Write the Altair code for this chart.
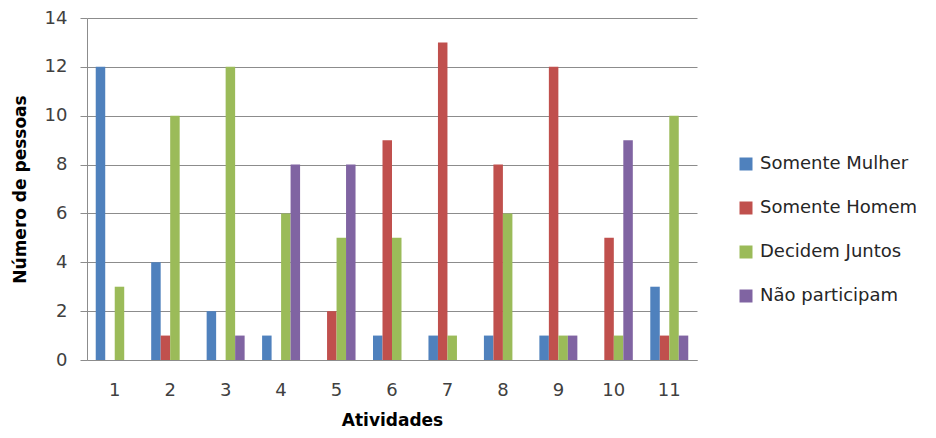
import altair as alt
import pandas as pd

atividades = ["1", "2", "3", "4", "5", "6", "7", "8", "9", "10", "11"]
series = ["Somente Mulher", "Somente Homem", "Decidem Juntos", "Não participam"]
somente_mulher = [12, 4, 2, 1, 0, 1, 1, 1, 1, 0, 3]
somente_homem = [0, 1, 0, 0, 2, 9, 13, 8, 12, 5, 1]
decidem_juntos = [3, 10, 12, 6, 5, 5, 1, 6, 1, 1, 10]
nao_participam = [0, 0, 1, 8, 8, 0, 0, 0, 1, 9, 1]
colors = ["#4F81BD", "#C0504D", "#9BBB59", "#8064A2"]
y_ticks = [0, 2, 4, 6, 8, 10, 12, 14]

rows = []
for s, vals in zip(series, [somente_mulher, somente_homem, decidem_juntos, nao_participam]):
    for a, v in zip(atividades, vals):
        rows.append({"Atividades": a, "Serie": s, "Valor": v})
df = pd.DataFrame(rows)

FONT = "DejaVu Sans"

chart = alt.Chart(df).mark_bar().encode(
    x=alt.X(
        "Atividades:N",
        sort=atividades,
        scale=alt.Scale(paddingInner=0.315, paddingOuter=0.1575),
        axis=alt.Axis(
            title="Atividades",
            labelAngle=0,
            ticks=False,
            labelPadding=21,
            labelFontSize=18,
            labelColor="#404040",
            labelFont=FONT,
            titleFont=FONT,
            titleFontSize=17,
            titleFontWeight="bold",
            titleColor="#000000",
            titleX=305,
            titleY=60,
            titleBaseline="middle",
            titleAlign="center",
            domainColor="#8c8c8c",
            grid=False,
        ),
    ),
    xOffset=alt.XOffset("Serie:N", sort=series, scale=alt.Scale(paddingInner=0, paddingOuter=0)),
    y=alt.Y(
        "Valor:Q",
        scale=alt.Scale(domain=[0, 14], nice=False),
        axis=alt.Axis(
            title="Número de pessoas",
            values=y_ticks,
            tickSize=7,
            tickColor="#8c8c8c",
            labelPadding=13,
            labelFontSize=18,
            labelColor="#404040",
            labelFont=FONT,
            titleFont=FONT,
            titleFontSize=17,
            titleFontWeight="bold",
            titleColor="#000000",
            titleAngle=-90,
            titleX=-67,
            titleY=171,
            titleBaseline="middle",
            titleAlign="center",
            domainColor="#8c8c8c",
            gridColor="#8c8c8c",
            gridWidth=1,
            gridOpacity=1,
        ),
    ),
    color=alt.Color(
        "Serie:N",
        sort=series,
        scale=alt.Scale(domain=series, range=colors),
        legend=alt.Legend(
            title=None,
            orient="none",
            legendX=650,
            legendY=137,
            symbolType="square",
            symbolSize=169,
            symbolStrokeWidth=0,
            symbolOpacity=1,
            labelFontSize=18,
            labelFont=FONT,
            labelColor="#262626",
            labelOffset=5,
            labelLimit=300,
            rowPadding=26,
        ),
    ),
).properties(
    width=610,
    height=342,
    padding={"left": 79, "top": 10, "right": 230, "bottom": 68},
    autosize="none",
).configure_view(stroke=None)

chart.save("out.html", embed_options={"renderer": "svg", "actions": False})
